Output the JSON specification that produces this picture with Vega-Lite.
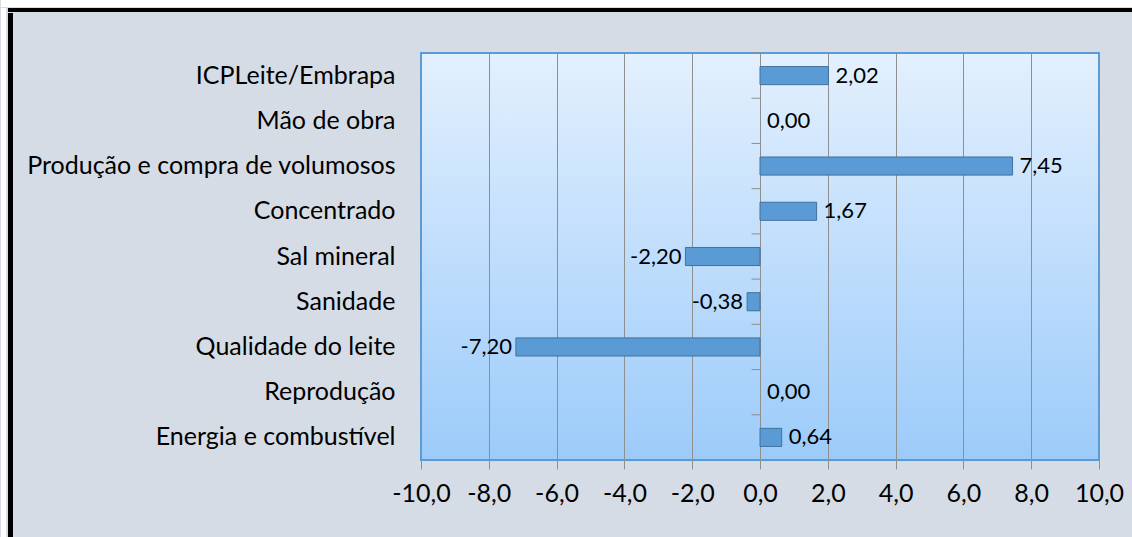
{
  "$schema": "https://vega.github.io/schema/vega-lite/v6.json",
  "padding": 0,
  "background": "#d6dce5",
  "config": {
    "concat": {"spacing": 0},
    "locale": {"number": {"decimal": ",", "thousands": ".", "grouping": [3], "currency": ["R$", ""], "minus": "-"}},
    "view": {"stroke": null}
  },
  "spacing": 0,
  "vconcat": [
    {
      "width": 1132, "height": 7,
      "view": {"fill": "#ffffff", "stroke": null},
      "data": {"values": [{}]},
      "mark": {"type": "point", "opacity": 0},
      "encoding": {}
    },
    {
      "spacing": 0,
      "hconcat": [
        {
          "width": 5, "height": 530,
          "view": {"fill": "#ffffff", "stroke": null},
          "data": {"values": [{}]},
          "mark": {"type": "point", "opacity": 0},
          "encoding": {}
        },
        {
          "spacing": 0,
          "vconcat": [
            {
              "width": 1127, "height": 4,
              "view": {"fill": "#000000", "stroke": null},
              "data": {"values": [{}]},
              "mark": {"type": "point", "opacity": 0},
              "encoding": {}
            },
            {
              "spacing": 0,
              "hconcat": [
                {
                  "width": 5, "height": 526,
                  "view": {"fill": "#000000", "stroke": null},
                  "data": {"values": [{}]},
                  "mark": {"type": "point", "opacity": 0},
                  "encoding": {}
                },
                {
                  "spacing": 0,
                  "vconcat": [
                    {
                      "width": 1100, "height": 38,
                      "view": {"fill": null, "stroke": null},
                      "data": {"values": [{}]},
                      "mark": {"type": "point", "opacity": 0},
                      "encoding": {}
                    },
                    {
                      "width": 678, "height": 407,
                      "view": {
                        "stroke": "#5b9bd5", "strokeWidth": 2,
                        "fill": {"gradient": "linear", "x1": 0, "y1": 0, "x2": 0, "y2": 1,
                          "stops": [{"offset": 0, "color": "#e3f0fe"}, {"offset": 1, "color": "#9ccbfa"}]}
                      },
                      "data": {"values": [
                        {"cat": "ICPLeite/Embrapa", "value": 2.02},
                        {"cat": "Mão de obra", "value": 0.0},
                        {"cat": "Produção e compra de volumosos", "value": 7.45},
                        {"cat": "Concentrado", "value": 1.67},
                        {"cat": "Sal mineral", "value": -2.20},
                        {"cat": "Sanidade", "value": -0.38},
                        {"cat": "Qualidade do leite", "value": -7.20},
                        {"cat": "Reprodução", "value": 0.0},
                        {"cat": "Energia e combustível", "value": 0.64}
                      ]},
                      "encoding": {
                        "y": {
                          "field": "cat", "type": "nominal",
                          "sort": ["ICPLeite/Embrapa", "Mão de obra", "Produção e compra de volumosos", "Concentrado", "Sal mineral", "Sanidade", "Qualidade do leite", "Reprodução", "Energia e combustível"],
                          "scale": {"paddingInner": 0.6, "paddingOuter": 0.3},
                          "axis": {
                            "title": null, "domain": false, "ticks": false,
                            "labelFont": "Lato", "labelFontSize": 25, "labelColor": "#000000",
                            "labelPadding": 26, "minExtent": 406, "maxExtent": 406, "labelLimit": 500
                          }
                        }
                      },
                      "layer": [
                        {
                          "transform": [{"filter": "datum.value != 0"}],
                          "mark": {"type": "bar", "fill": "#5b9bd5", "stroke": "#41719c", "strokeWidth": 1},
                          "encoding": {
                            "x": {
                              "field": "value", "type": "quantitative",
                              "scale": {"domain": [-10, 10], "nice": false, "zero": false},
                              "axis": {
                                "title": null, "values": [-10, -8, -6, -4, -2, 0, 2, 4, 6, 8, 10],
                                "format": ".1f", "domain": false,
                                "grid": true, "gridColor": "#8f8f8f", "gridWidth": 1,
                                "ticks": true, "tickColor": "#8f8f8f", "tickSize": 9,
                                "labelFont": "Lato", "labelFontSize": 25, "labelColor": "#000000",
                                "labelPadding": 12, "labelFlush": false
                              }
                            }
                          }
                        },
                        {
                          "mark": {"type": "rule", "color": "#8f8f8f", "strokeWidth": 1},
                          "encoding": {"x": {"datum": 0}}
                        },
                        {
                          "mark": {"type": "rule", "color": "#8f8f8f", "strokeWidth": 1, "yOffset": -22.6},
                          "encoding": {
                            "x": {"datum": -0.25},
                            "x2": {"datum": 0}
                          }
                        },
                        {
                          "transform": [{"filter": "datum.value >= 0"}],
                          "mark": {"type": "text", "align": "left", "dx": 7, "font": "Lato", "fontSize": 22, "color": "#000000"},
                          "encoding": {
                            "x": {"field": "value", "type": "quantitative"},
                            "text": {"field": "value", "type": "quantitative", "format": ".2f"}
                          }
                        },
                        {
                          "transform": [{"filter": "datum.value < 0"}],
                          "mark": {"type": "text", "align": "right", "dx": -4, "font": "Lato", "fontSize": 22, "color": "#000000"},
                          "encoding": {
                            "x": {"field": "value", "type": "quantitative"},
                            "text": {"field": "value", "type": "quantitative", "format": ".2f"}
                          }
                        }
                      ]
                    }
                  ]
                }
              ]
            }
          ]
        }
      ]
    }
  ]
}
